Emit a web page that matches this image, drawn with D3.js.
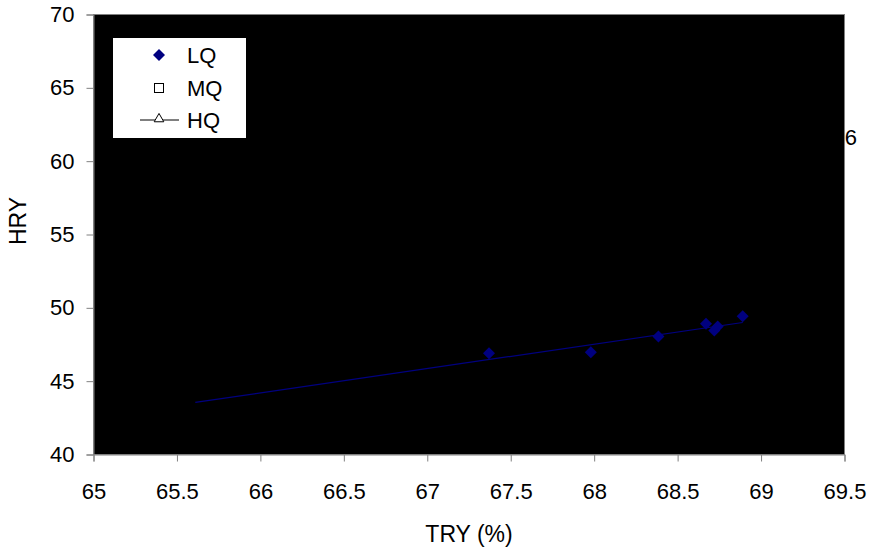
<!DOCTYPE html>
<html>
<head>
<meta charset="utf-8">
<script src="https://cdn.jsdelivr.net/npm/d3@7"></script>
<style>
  body { margin: 0; background: #fff; }
  text { font-family: "Liberation Sans", Arial, sans-serif; fill: #000; }
</style>
</head>
<body>
<svg id="chart" width="871" height="551"></svg>
<script>
// data
const lqTRY = [67.37, 67.98, 68.385, 68.67, 68.72, 68.74, 68.89];
const lqHRY = [46.9, 46.97, 48.04, 48.91, 48.45, 48.73, 49.43];
const mqPoints = [];
const hqPoints = [];
const trendTRY = [65.61, 68.89];   // linear trendline for LQ (with backward forecast)
const trendHRY = [43.55, 49.0];
const xTicks = [65, 65.5, 66, 66.5, 67, 67.5, 68, 68.5, 69, 69.5];
const yTicks = [40, 45, 50, 55, 60, 65, 70];
const seriesNames = ["LQ", "MQ", "HQ"];

const LEFT = 93.5, RIGHT = 844.5, TOP = 14.5, BOTTOM = 454.5;
const NAVY = "#000080";

const svg = d3.select("#chart");

const x = d3.scaleLinear().domain([65, 69.5]).range([LEFT, RIGHT]);
const y = d3.scaleLinear().domain([40, 70]).range([BOTTOM, TOP]);

// ── plot area ──
svg.append("rect")
  .attr("x", LEFT).attr("y", TOP)
  .attr("width", RIGHT - LEFT).attr("height", BOTTOM - TOP)
  .attr("fill", "#000")
  .attr("stroke", "#808080").attr("stroke-width", 1);

// ── axes ──
const xAxis = svg.append("g")
  .attr("transform", `translate(0,${BOTTOM})`)
  .call(d3.axisBottom(x).tickValues(xTicks).tickSize(7).tickPadding(30).tickFormat(d3.format("")));
const yAxis = svg.append("g")
  .attr("transform", `translate(${LEFT},0)`)
  .call(d3.axisLeft(y).tickValues(yTicks).tickSize(7).tickPadding(12).tickFormat(d3.format("")));

[xAxis, yAxis].forEach(g => {
  g.select(".domain").attr("stroke", "#808080");
  g.selectAll(".tick line").attr("stroke", "#808080");
  g.selectAll(".tick text")
    .attr("font-family", "Liberation Sans, Arial, sans-serif")
    .attr("font-size", "22px")
    .attr("fill", "#000");
});
xAxis.selectAll(".tick text").attr("dy", "0.35em");

// ── axis titles ──
svg.append("text")
  .attr("x", (LEFT + RIGHT) / 2)
  .attr("y", 542)
  .attr("text-anchor", "middle")
  .attr("font-size", "23px")
  .text("TRY (%)");

svg.append("text")
  .attr("transform", `translate(26,221) rotate(-90)`)
  .attr("text-anchor", "middle")
  .attr("font-size", "23px")
  .text("HRY");

// ── trendline ──
svg.append("line")
  .attr("x1", x(trendTRY[0])).attr("y1", y(trendHRY[0]))
  .attr("x2", x(trendTRY[1])).attr("y2", y(trendHRY[1]))
  .attr("stroke", NAVY).attr("stroke-width", 1.2);

// ── LQ points (diamonds) ──
const diamond = d3.symbol().type(d3.symbolSquare).size(72);
svg.append("g").selectAll("path")
  .data(lqTRY.map((v, i) => [v, lqHRY[i]]))
  .join("path")
  .attr("d", diamond)
  .attr("transform", d => `translate(${x(d[0])},${y(d[1])}) rotate(45)`)
  .attr("fill", NAVY);

// ── trendline label, mostly lost on the black plot area ──
svg.append("text")
  .attr("x", 857).attr("y", 145)
  .attr("text-anchor", "end")
  .attr("font-size", "22px")
  .text("6");

// ── legend ──
const lg = svg.append("g");
lg.append("rect")
  .attr("x", 112.5).attr("y", 37.5)
  .attr("width", 134).attr("height", 101)
  .attr("fill", "#fff").attr("stroke", "#000").attr("stroke-width", 1);

const rowY = [55, 88, 120];
const MX = 159;
seriesNames.forEach((name, i) => {
  const cy = rowY[i];
  if (name === "LQ") {
    lg.append("path").attr("d", diamond)
      .attr("transform", `translate(${MX},${cy}) rotate(45)`)
      .attr("fill", NAVY);
  } else if (name === "MQ") {
    lg.append("rect")
      .attr("x", MX - 4.5).attr("y", cy - 4.5)
      .attr("width", 9).attr("height", 9)
      .attr("fill", "#fff").attr("stroke", "#000").attr("stroke-width", 1);
  } else {
    lg.append("line")
      .attr("x1", 140).attr("x2", 179)
      .attr("y1", cy).attr("y2", cy)
      .attr("stroke", "#000").attr("stroke-width", 1);
    lg.append("path")
      .attr("d", d3.symbol().type(d3.symbolTriangle).size(40))
      .attr("transform", `translate(${MX},${cy - 1})`)
      .attr("fill", "#fff").attr("stroke", "#000").attr("stroke-width", 1);
  }
  lg.append("text")
    .attr("x", 187).attr("y", cy)
    .attr("dy", "0.35em")
    .attr("font-size", "22px")
    .text(name);
});
</script>
</body>
</html>
